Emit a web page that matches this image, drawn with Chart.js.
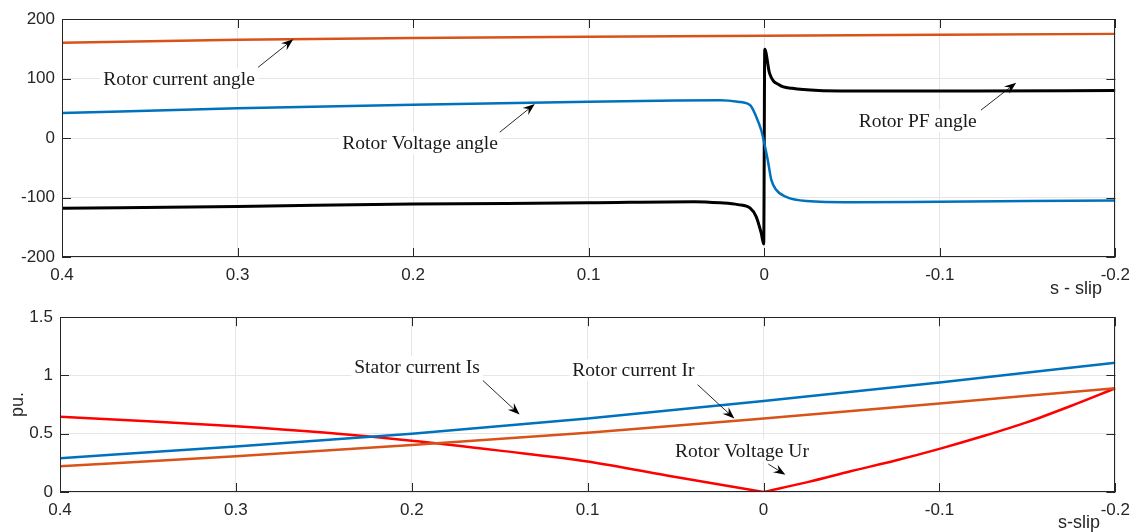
<!DOCTYPE html>
<html>
<head>
<meta charset="utf-8">
<script src="https://cdn.jsdelivr.net/npm/chart.js@4.4.0/dist/chart.umd.min.js"></script>
<style>
  body { margin: 0; background: #fff; }
  #wrap { position: relative; width: 1138px; height: 532px; }
  canvas { position: absolute; left: 0; }
</style>
</head>
<body>
<div id="wrap">
  <canvas id="angleChart" width="1138" height="300" style="top:0px"></canvas>
  <canvas id="puChart" width="1138" height="232" style="top:300px"></canvas>
</div>
<script>
// ---- data ----
var slipTicks  = [0.4, 0.3, 0.2, 0.1, 0, -0.1, -0.2];
var angleTicks = [-200, -100, 0, 100, 200];
var puTicks    = [0, 0.5, 1, 1.5];

// top plot: angles (deg) vs slip
var currAngleS = [0.4, 0.3, 0.2, 0.1, 0, -0.1, -0.2];
var currAngle  = [160, 165, 168, 170, 172, 173.5, 175];

var voltAngleS = [0.4, 0.3, 0.2, 0.1, 0.05, 0.025, 0.015, 0.008, 0.0046, 0.0017, 0.0002,
                  -0.002, -0.004, -0.0068, -0.0125, -0.024, -0.05, -0.1, -0.2];
var voltAngle  = [42, 50, 56, 61, 63, 63.5, 61, 55, 36, 13, -6,
                  -37, -70, -87, -99, -106, -108, -107, -105];

var pfAngleS = [0.4, 0.3, 0.2, 0.1, 0.04, 0.025, 0.015, 0.008, 0.0046, 0.0017, 0.0003,
                -0.0003, -0.003, -0.0087, -0.016, -0.031, -0.06, -0.12, -0.2];
var pfAngle  = [-118, -115, -111, -109, -107, -109, -112, -118, -132, -160, -178,
                149, 109, 89, 83.5, 80, 79, 79, 80];

// bottom plot: per-unit magnitudes vs slip
var puS     = [0.4, 0.3, 0.2, 0.1, 0, -0.1, -0.2];
var statorI = [0.29, 0.39, 0.50, 0.63, 0.78, 0.94, 1.11];
var rotorI  = [0.22, 0.307, 0.404, 0.508, 0.63, 0.76, 0.89];

// rotor voltage: two branches meeting at s = 0
var rotorUS1 = [0.4, 0.35, 0.3, 0.25, 0.2, 0.15, 0.1, 0.05, 0];
var rotorU1  = [0.645, 0.608, 0.565, 0.51, 0.44, 0.355, 0.262, 0.128, 0];
var rotorUS2 = [0, -0.025, -0.05, -0.075, -0.1, -0.125, -0.15, -0.175, -0.2];
var rotorU2  = [0, 0.085, 0.18, 0.27, 0.37, 0.48, 0.6, 0.74, 0.89];

// annotation text + arrow (tail -> head), in data coordinates
var angleNotes = [
  {text: 'Rotor current angle', x: 0.3333, y: 98.7,  ax: [0.2883, 0.2683],   ay: [118.8, 165.9]},
  {text: 'Rotor Voltage angle', x: 0.196,  y: -9,    ax: [0.1507, 0.1307],   ay: [9.6, 57.1]},
  {text: 'Rotor PF angle',      x: -0.0874, y: 28.6, ax: [-0.1235, -0.1435], ay: [47, 92.9]}
];
var puNotes = [
  {text: 'Stator current Is', x: 0.197,  y: 1.074, ax: [0.1596, 0.1387],   ay: [0.957, 0.665]},
  {text: 'Rotor current Ir',  x: 0.074,  y: 1.047, ax: [0.0375, 0.0166],   ay: [0.921, 0.63]},
  {text: 'Rotor Voltage Ur',  x: 0.0123, y: 0.357, ax: [-0.0027, -0.0124], ay: [0.24, 0.147]}
];

var AXIS_COL = '#262626';
var GRID_COL = '#e6e6e6';
var tickFont = {family: 'Liberation Sans, Arial, sans-serif', size: 17};

function pts(xs, ys) {
  return xs.map(function (x, i) { return {x: x, y: ys[i]}; });
}

function fixedTicks(list) {
  return function (scale) {
    scale.ticks = list.map(function (v) { return {value: v}; });
  };
}

// MATLAB style: full box with inward ticks on all four sides
var boxPlugin = {
  id: 'box',
  afterDraw: function (chart) {
    var ctx = chart.ctx, a = chart.chartArea;
    var xs = chart.scales.x, ys = chart.scales.y;
    var L = 9;
    ctx.save();
    ctx.strokeStyle = AXIS_COL;
    ctx.lineWidth = 1;
    ctx.beginPath();
    xs.ticks.forEach(function (t) {
      var px = Math.round(xs.getPixelForValue(t.value)) + 0.5;
      ctx.moveTo(px, a.bottom); ctx.lineTo(px, a.bottom - L);
      ctx.moveTo(px, a.top);    ctx.lineTo(px, a.top + L);
    });
    ys.ticks.forEach(function (t) {
      var py = Math.round(ys.getPixelForValue(t.value)) + 0.5;
      ctx.moveTo(a.left, py);  ctx.lineTo(a.left + L, py);
      ctx.moveTo(a.right, py); ctx.lineTo(a.right - L, py);
    });
    ctx.stroke();
    ctx.strokeRect(Math.round(a.left) + 0.5, Math.round(a.top) + 0.5,
                   Math.round(a.right - a.left) - 1, Math.round(a.bottom - a.top) - 1);
    ctx.restore();
  }
};

function drawArrow(ctx, x1, y1, x2, y2) {
  var ang = Math.atan2(y2 - y1, x2 - x1);
  var c = Math.cos(ang), s = Math.sin(ang);
  var len = 12, half = 4.5;
  ctx.beginPath();
  ctx.moveTo(x1, y1);
  ctx.lineTo(x2 - len * 0.6 * c, y2 - len * 0.6 * s);
  ctx.stroke();
  ctx.beginPath();
  ctx.moveTo(x2, y2);
  ctx.lineTo(x2 - len * c - half * s, y2 - len * s + half * c);
  ctx.lineTo(x2 - len * 0.65 * c, y2 - len * 0.65 * s);
  ctx.lineTo(x2 - len * c + half * s, y2 - len * s - half * c);
  ctx.closePath();
  ctx.fill();
}

function notesPlugin(notes, xTitle, yTitle) {
  return {
    id: 'notes',
    afterDraw: function (chart) {
      var ctx = chart.ctx, a = chart.chartArea;
      var xs = chart.scales.x, ys = chart.scales.y;
      ctx.save();
      ctx.font = '19.5px "Liberation Serif", "Times New Roman", serif';
      ctx.textBaseline = 'middle';
      ctx.textAlign = 'center';
      notes.forEach(function (n) {
        var px = xs.getPixelForValue(n.x), py = ys.getPixelForValue(n.y);
        var w = ctx.measureText(n.text).width;
        ctx.fillStyle = '#fff';
        ctx.fillRect(px - w / 2 - 3, py - 11, w + 6, 22);
        ctx.fillStyle = '#1a1a1a';
        ctx.fillText(n.text, px, py + 1);
        ctx.strokeStyle = '#111';
        ctx.fillStyle = '#000';
        ctx.lineWidth = 0.9;
        drawArrow(ctx, xs.getPixelForValue(n.ax[0]), ys.getPixelForValue(n.ay[0]),
                       xs.getPixelForValue(n.ax[1]), ys.getPixelForValue(n.ay[1]));
      });
      // axis titles
      ctx.font = '18px "Liberation Sans", Arial, sans-serif';
      ctx.fillStyle = AXIS_COL;
      ctx.textAlign = 'right';
      ctx.fillText(xTitle.text, xTitle.right, xTitle.y);
      if (yTitle) {
        ctx.translate(yTitle.x, (a.top + a.bottom) / 2);
        ctx.rotate(-Math.PI / 2);
        ctx.textAlign = 'center';
        ctx.fillText(yTitle.text, 0, 0);
      }
      ctx.restore();
    }
  };
}

function baseOptions(yMin, yMax, yTickList, pad, yWidth, xHeight) {
  return {
    responsive: false,
    animation: false,
    layout: {padding: pad},
    elements: {point: {radius: 0}, line: {tension: 0, borderJoinStyle: 'round'}},
    plugins: {legend: {display: false}, tooltip: {enabled: false}},
    scales: {
      x: {
        type: 'linear', reverse: true, min: -0.2, max: 0.4,
        afterBuildTicks: fixedTicks(slipTicks),
        afterFit: function (s) { s.height = xHeight; },
        grid: {color: GRID_COL, drawTicks: false},
        border: {display: false},
        ticks: {autoSkip: false, maxRotation: 0, padding: 8, color: AXIS_COL, font: tickFont,
                callback: function (v) { return String(v); }}
      },
      y: {
        type: 'linear', min: yMin, max: yMax,
        afterBuildTicks: fixedTicks(yTickList),
        afterFit: function (s) { s.width = yWidth; },
        grid: {color: GRID_COL, drawTicks: false},
        border: {display: false},
        ticks: {autoSkip: false, padding: 7, color: AXIS_COL, font: tickFont,
                callback: function (v) { return String(v); }}
      }
    }
  };
}

new Chart(document.getElementById('angleChart'), {
  type: 'line',
  data: {
    datasets: [
      {label: 'Rotor current angle', data: pts(currAngleS, currAngle), borderColor: '#D95319', borderWidth: 2.5},
      {label: 'Rotor Voltage angle', data: pts(voltAngleS, voltAngle), borderColor: '#0072BD', borderWidth: 2.5,
       cubicInterpolationMode: 'monotone'},
      {label: 'Rotor PF angle', data: pts(pfAngleS, pfAngle), borderColor: '#000000', borderWidth: 3,
       cubicInterpolationMode: 'monotone'}
    ]
  },
  options: baseOptions(-200, 200, angleTicks, {top: 19, right: 22, left: 0, bottom: 0}, 62, 43),
  plugins: [boxPlugin, notesPlugin(angleNotes, {text: 's - slip', right: 1102, y: 289})]
});

new Chart(document.getElementById('puChart'), {
  type: 'line',
  data: {
    datasets: [
      {label: 'Stator current Is', data: pts(puS, statorI), borderColor: '#0072BD', borderWidth: 2.5,
       cubicInterpolationMode: 'monotone'},
      {label: 'Rotor current Ir', data: pts(puS, rotorI), borderColor: '#D95319', borderWidth: 2.5,
       cubicInterpolationMode: 'monotone'},
      {label: 'Rotor Voltage Ur', data: pts(rotorUS1, rotorU1), borderColor: '#FF0000', borderWidth: 2.5,
       cubicInterpolationMode: 'monotone'},
      {label: 'Rotor Voltage Ur (s<0)', data: pts(rotorUS2, rotorU2), borderColor: '#FF0000', borderWidth: 2.5,
       cubicInterpolationMode: 'monotone'}
    ]
  },
  options: baseOptions(0, 1.5, puTicks, {top: 8, right: 22, left: 0, bottom: 0}, 60, 40),
  plugins: [boxPlugin, notesPlugin(puNotes, {text: 's-slip', right: 1100, y: 223}, {text: 'pu.', x: 18})]
});
</script>
</body>
</html>
